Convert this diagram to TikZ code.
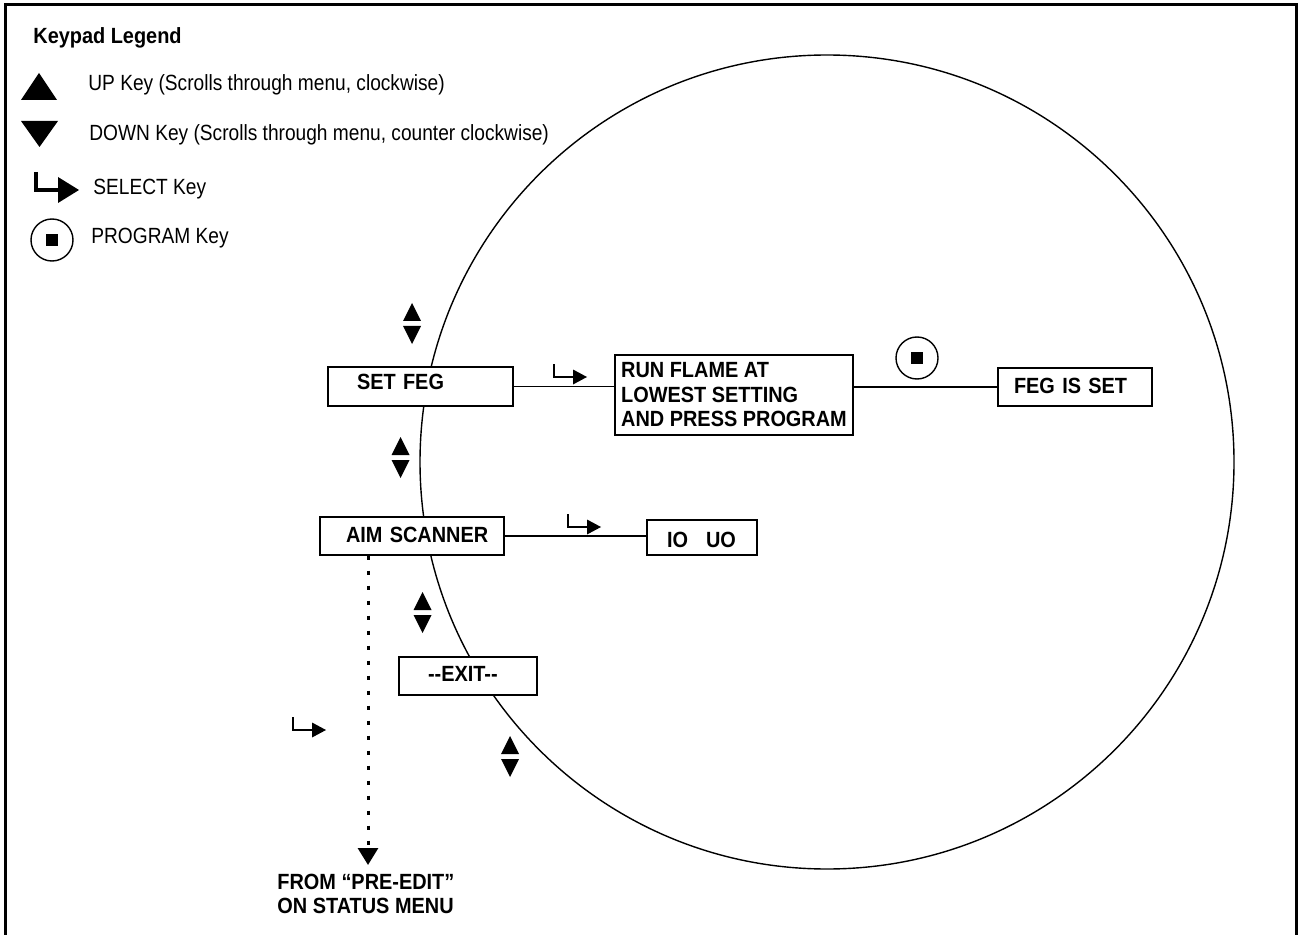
\documentclass[tikz,border=0pt]{standalone}
\usepackage{fontspec}
\setmainfont{Liberation Sans}[FakeStretch=0.87]
\newfontfamily\boldsans{Liberation Sans}[FakeStretch=0.905]
\usetikzlibrary{arrows.meta}
\newcommand\UpDn[2]{%
  \fill ({#1-9},{#2+18}) -- ({#1+9},{#2+18}) -- (#1,#2) -- cycle;
  \fill ({#1-9},{#2+23}) -- ({#1+9},{#2+23}) -- (#1,{#2+41}) -- cycle;}
\newcommand\SelHook[2]{%
  \draw[line width=0.75pt] (#1,{#2-13}) -- (#1,#2) -- ({#1+20},#2);
  \fill ({#1+19},{#2-7.5}) -- ({#1+33},#2) -- ({#1+19},{#2+7.5}) -- cycle;}
\tikzset{
  txt/.style={font=\fontsize{11}{12.25}\selectfont},
  btxt/.style={font=\boldsans\bfseries\fontsize{11}{12.25}\selectfont},
  legtext/.style={txt, anchor=base west, inner sep=0pt},
  box/.style={btxt, draw, fill=white, line width=0.6pt, inner ysep=0pt},
  lbox/.style={box, align=left},
  link/.style={line width=0.6pt},
  progkey/.style={draw, circle, line width=0.7pt, minimum size=21pt, inner sep=0pt,
    path picture={\fill ([shift={(-3pt,-3pt)}]path picture bounding box.center) rectangle ++(6pt,6pt);}},
  dotline/.style={line width=1.5pt, dash pattern=on 2pt off 5.5pt},
}
\begin{document}
\begin{tikzpicture}[x=0.5pt, y=-0.5pt]
\useasboundingbox (0,0) rectangle (1299,935);
% frame
\draw[line width=1.5pt] (5.5,935) -- (5.5,4.5) -- (1296.5,4.5) -- (1296.5,935);
% legend
\node[btxt, anchor=base west, inner sep=0pt] (legtitle) at (33,44) {Keypad Legend};
\fill (21,100) -- (57,100) -- (39,73) -- cycle;
\node[legtext] (legup) at (88,91) {UP Key (Scrolls through menu, clockwise)};
\fill (21,121) -- (58,121) -- (39.5,147) -- cycle;
\node[legtext] (legdown) at (89,141) {DOWN Key (Scrolls through menu, counter clockwise)};
\draw[line width=2.2pt] (36,172) -- (36,190) -- (60,190);
\fill (58,177) -- (79,190) -- (58,203) -- cycle;
\node[legtext] (legsel) at (93,195) {SELECT Key};
\node[progkey] (legprog) at (52,240) {};
\node[legtext] (legprogt) at (91,244) {PROGRAM Key};
% big circle
\draw[line width=0.7pt] (827,462) circle[radius=203.5pt];
% boxes
\node[lbox, text width=63.5pt, inner xsep=14.5pt, minimum height=19.5pt, text height=7.9pt, text depth=5pt] (setfeg) at (420.5,386.5) {SET FEG};
\node[box, align=left, inner xsep=0pt, minimum width=119pt, minimum height=40pt] (run) at (734,395) {RUN FLAME AT\\LOWEST SETTING\\AND PRESS PROGRAM};
\node[lbox, text width=61pt, inner xsep=8pt, minimum height=19pt, text height=7.9pt, text depth=1.5pt] (fegset) at (1075,387) {FEG IS SET};
\node[lbox, text width=66pt, inner xsep=13pt, minimum height=19pt, text height=7.9pt, text depth=1.5pt] (aim) at (412,536) {\mbox{AIM SCANNER}};
\node[lbox, text width=35pt, inner xsep=10pt, minimum height=17.5pt, text height=10.4pt, text depth=0pt] (iouo) at (702,537.5) {\mbox{IO\hspace{9pt}UO}};
\node[lbox, text width=40pt, inner xsep=14.5pt, minimum height=19pt, text height=7.9pt, text depth=2pt] (exit) at (468,676) {\mbox{-{}-EXIT-{}-}};
% connectors
\draw[link] (setfeg.east) -- (setfeg.east -| run.west);
\draw[link] (fegset.west -| run.east) -- (fegset.west);
\draw[link] (aim.east) -- (aim.east -| iouo.west);
\coordinate (pretip) at (368,865);
\draw[dotline, -{Triangle[width=10pt,length=8.5pt]}] (aim.south -| pretip) -- (pretip);
% keys in diagram
\node[progkey] (pk) at (917,358) {};
\SelHook{554}{377}
\SelHook{568}{527}
\SelHook{293}{730}
\UpDn{412}{303}
\UpDn{400.5}{437}
\UpDn{422.5}{592}
\UpDn{510}{736}
% bottom text
\node[anchor=base west, inner sep=0pt, align=left, font=\boldsans\bfseries\fontsize{11}{11.75}\selectfont] (fromtxt) at (277,913) {FROM “PRE-EDIT”\\ON STATUS MENU};
\end{tikzpicture}
\end{document}
